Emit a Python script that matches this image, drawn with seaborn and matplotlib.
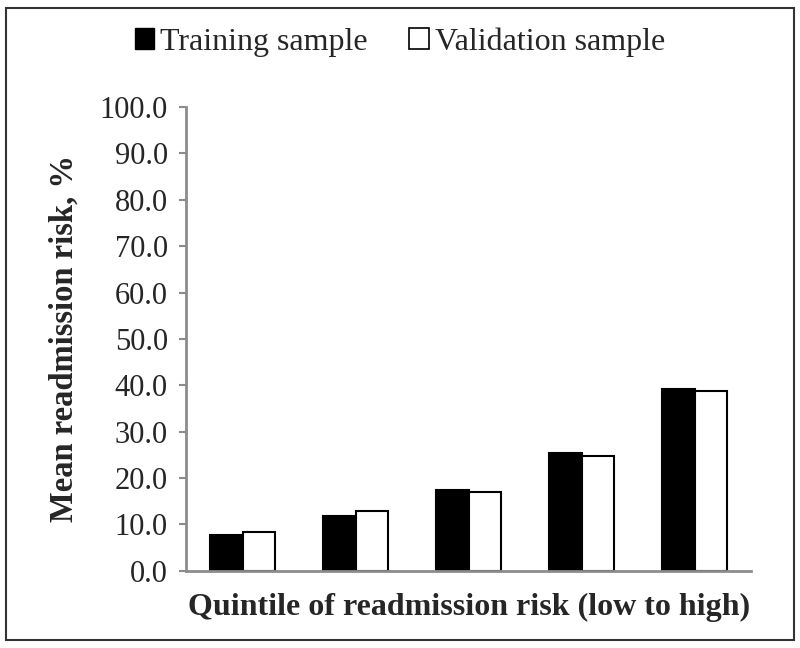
import pandas as pd
import matplotlib.pyplot as plt
import seaborn as sns
from matplotlib.patches import Rectangle, Patch

quintiles = ['Q1', 'Q2', 'Q3', 'Q4', 'Q5']
training = [7.7, 11.9, 17.4, 25.4, 39.2]
validation = [8.3, 13.0, 16.9, 24.7, 38.7]
series_names = ['Training sample', 'Validation sample']

df = pd.DataFrame({
    'quintile': quintiles * 2,
    'risk': training + validation,
    'sample': [series_names[0]] * 5 + [series_names[1]] * 5,
})

sns.set_theme(style="white")
plt.rcParams['font.family'] = ['Liberation Serif', 'DejaVu Serif']

fig = plt.figure(figsize=(8, 6.48), dpi=100)
ax = fig.add_axes([0.2325, 0.119, 0.7065, 0.716])

sns.barplot(data=df, x='quintile', y='risk', hue='sample', ax=ax,
            palette={'Training sample': 'black', 'Validation sample': 'white'},
            edgecolor='black', linewidth=1.5, width=0.57, legend=False)

ax.set_ylim(0, 100)
ax.set_xlim(-0.5, 4.5)
ax.set_yticks(range(0, 101, 10))
ax.set_yticklabels([f'{v:.1f}' for v in range(0, 101, 10)], fontsize=22)
ax.set_xticks([])
ax.set_xlabel('Quintile of readmission risk (low to high)', fontsize=23,
              fontweight='bold', labelpad=16)
ax.set_ylabel('Mean readmission risk, %', fontsize=23.5, fontweight='bold',
              labelpad=14)

for side in ['top', 'right']:
    ax.spines[side].set_visible(False)
for side in ['left', 'bottom']:
    ax.spines[side].set_color('#8c8c8c')
    ax.spines[side].set_linewidth(2)
ax.tick_params(axis='y', direction='out', length=5, width=1.5,
               color='#8c8c8c', left=True, pad=8)

handles = [Patch(facecolor='black', edgecolor='black'),
           Patch(facecolor='white', edgecolor='black', linewidth=1.2)]
fig.legend(handles, series_names, loc='center', bbox_to_anchor=(0.5, 0.935),
           ncol=2, frameon=False, fontsize=23, handlelength=0.6,
           handleheight=0.6, handletextpad=0.2, columnspacing=1.3)

fig.patches.append(Rectangle((0.008, 0.012), 0.985, 0.975,
                             transform=fig.transFigure, fill=False,
                             edgecolor='#333333', linewidth=1.5))

fig.savefig('out.png', dpi=100)
